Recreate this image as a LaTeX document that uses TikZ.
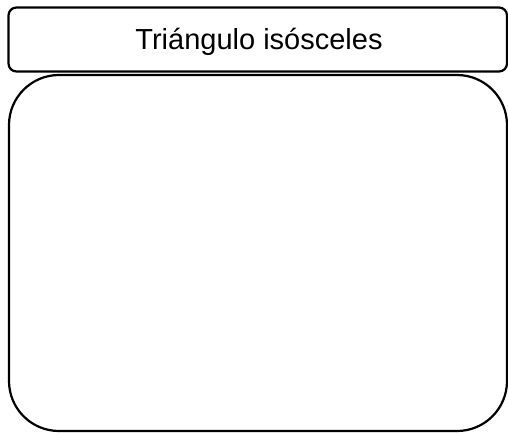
\documentclass[tikz,border=0pt]{standalone}
\usepackage{fontspec}
\setmainfont{Liberation Sans}
\begin{document}
\begin{tikzpicture}[x=1pt,y=-1pt,
  boxline/.style={draw=black,line width=2.2pt,fill=white}]
\useasboundingbox (0,0) rectangle (508,434);
\draw[boxline,rounded corners=50pt] (9,75) rectangle (507,431);
\draw[boxline,rounded corners=8pt] (8.5,7.5) rectangle (507,71.5);
\node[anchor=base,font=\fontsize{29}{34}\selectfont,inner sep=0pt] (title) at (259,49.5) {Triángulo isósceles};
\end{tikzpicture}
\end{document}
